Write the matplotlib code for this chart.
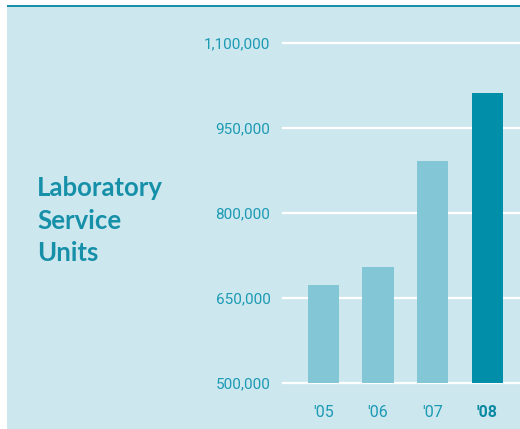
import matplotlib.pyplot as plt
import matplotlib.patches as mpatches

# Data
years = ["'05", "'06", "'07", "'08"]
units = [673000, 705000, 892000, 1012000]
ticks = [500000, 650000, 800000, 950000, 1100000]

# Colours
bg = "#cde7ee"
light = "#83c6d6"
dark = "#008ea8"
txt = "#1b9ab4"

fig = plt.figure(figsize=(5.2, 4.29), dpi=100)

# panel background and top rule
fig.patches.append(mpatches.Rectangle((7 / 520, 0), 1, 424 / 429, transform=fig.transFigure,
                                      facecolor=bg, edgecolor="none", zorder=-10))
fig.patches.append(mpatches.Rectangle((7 / 520, 422 / 429), 1, 2.5 / 429, transform=fig.transFigure,
                                      facecolor="#1a8fa8", edgecolor="none", zorder=-9))

ax = fig.add_axes([283 / 520, 46 / 429, 237 / 520, 340 / 429])
ax.set_facecolor("none")
ax.set_zorder(5)

x = list(range(len(years)))
colors = [light] * (len(years) - 1) + [dark]
ax.bar(x, units, width=0.57, color=colors, zorder=3)

for t in ticks:
    ax.axhline(t, color="white", lw=1.6, zorder=2, clip_on=False)

ax.set_xlim(-0.74, 3.6)
ax.set_ylim(500000, 1100000)

for s in ax.spines.values():
    s.set_visible(False)
ax.tick_params(length=0)

ax.set_yticks(ticks)
ax.set_yticklabels([f"{t:,}" for t in ticks], family="Roboto", fontsize=11, color=txt)
ax.tick_params(axis="y", pad=9)

ax.set_xticks(x)
ax.set_xticklabels(years, family="Roboto", fontsize=11.5, color=txt)
ax.tick_params(axis="x", pad=16)
last = ax.get_xticklabels()[-1]
last.set_fontweight("bold")
last.set_color("#0a89a2")

fig.text(37 / 520, 1 - 176 / 429, "Laboratory\nService\nUnits", family="Lato", fontweight="bold",
         fontsize=18.5, color="#1690a9", va="top", ha="left", linespacing=1.43)

fig.savefig("out.png", dpi=100, facecolor="white")
